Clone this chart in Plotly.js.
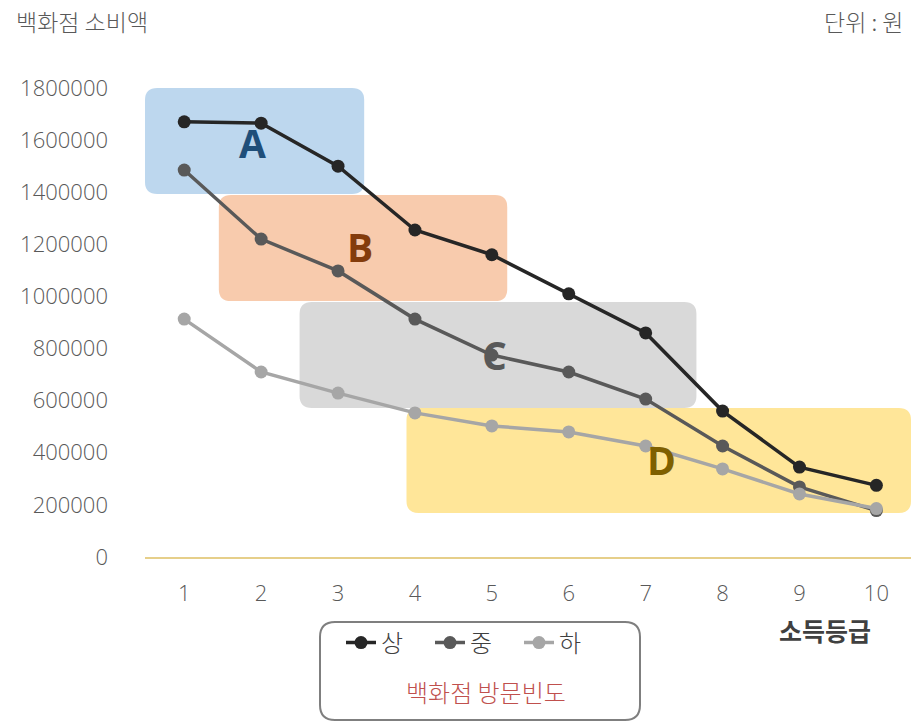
<!DOCTYPE html>
<html>
<head>
<meta charset="utf-8">
<script src="https://cdn.plot.ly/plotly-3.0.1.min.js"></script>
<style>
  html, body { margin: 0; padding: 0; background: #ffffff; }
  #chart { width: 911px; height: 721px; }
</style>
</head>
<body>
<div id="chart"></div>
<script>
// Income grade (x) and department-store spending (won) by visit frequency
const grades = [1, 2, 3, 4, 5, 6, 7, 8, 9, 10];
const tickLabels = ['1', '2', '3', '4', '5', '6', '7', '8', '9', '10'];
const high = [1670000, 1665000, 1500000, 1255000, 1160000, 1010000, 860000, 560000, 345000, 275000];
const mid  = [1485000, 1220000, 1098000, 913000, 775000, 710000, 606000, 426000, 269000, 178000];
const low  = [913000, 710000, 629000, 553000, 503000, 480000, 426000, 338000, 242000, 186000];
const seriesNames = ['상', '중', '하'];
const yTicks = [0, 200000, 400000, 600000, 800000, 1000000, 1200000, 1400000, 1600000, 1800000];

// Highlighted groups: label, x span, y span
const groupLabels = ['A', 'B', 'C', 'D'];
const groupX = [[0.49, 3.34], [1.45, 5.2], [2.5, 7.66], [3.89, 10.45]];
const groupY = [[1393000, 1800000], [982000, 1389000], [572000, 979000], [169000, 572000]];
const groupFill = ['#bdd7ee', '#f8cbad', '#d9d9d9', '#ffe699'];
const groupInk = ['#1f4e79', '#843c0c', '#595959', '#7f6000'];
const groupLabelPos = [[1.89, 1590000], [3.28, 1192000], [5.03, 778000], [7.2, 376000]];

const FONT = "'Open Sans', 'Noto Sans CJK KR', sans-serif";
const KFONT = "'Noto Sans CJK KR', 'Open Sans', sans-serif";

// rounded rectangle as an SVG path; rx/ry are corner radii in the shape's own units
function roundRect(x0, x1, y0, y1, rx, ry) {
  return 'M ' + (x0 + rx) + ',' + y0 +
    ' L ' + (x1 - rx) + ',' + y0 +
    ' Q ' + x1 + ',' + y0 + ' ' + x1 + ',' + (y0 + ry) +
    ' L ' + x1 + ',' + (y1 - ry) +
    ' Q ' + x1 + ',' + y1 + ' ' + (x1 - rx) + ',' + y1 +
    ' L ' + (x0 + rx) + ',' + y1 +
    ' Q ' + x0 + ',' + y1 + ' ' + x0 + ',' + (y1 - ry) +
    ' L ' + x0 + ',' + (y0 + ry) +
    ' Q ' + x0 + ',' + y0 + ' ' + (x0 + rx) + ',' + y0 + ' Z';
}

const lineColors = ['#262626', '#595959', '#a6a6a6'];
const values = [high, mid, low];
const traces = values.map((v, i) => ({
  x: grades,
  y: v,
  name: seriesNames[i],
  type: 'scatter',
  mode: 'lines+markers',
  line: { color: lineColors[i], width: 3.5 },
  marker: { color: lineColors[i], size: 13 },
  cliponaxis: false
}));

const shapes = groupLabels.map((g, i) => ({
  type: 'path',
  xref: 'x', yref: 'y',
  layer: 'below',
  path: roundRect(groupX[i][0], groupX[i][1], groupY[i][0], groupY[i][1], 0.16, 46000),
  fillcolor: groupFill[i],
  line: { width: 0 }
}));

// legend frame (paper units: plot spans 766 x 487 px)
const PW = 766, PH = 487;
const lx0 = (320 - 145) / PW, lx1 = (640 - 145) / PW;
const ly0 = (557 - 720) / PH, ly1 = (557 - 622) / PH;
shapes.push({
  type: 'path', xref: 'paper', yref: 'paper',
  path: roundRect(lx0, lx1, ly0, ly1, 15 / PW, 15 / PH),
  line: { color: '#7f7f7f', width: 2 },
  fillcolor: 'rgba(0,0,0,0)'
});

const annotations = groupLabels.map((g, i) => ({
  x: groupLabelPos[i][0], y: groupLabelPos[i][1],
  xref: 'x', yref: 'y',
  text: '<b>' + g + '</b>',
  showarrow: false,
  font: { family: FONT, size: 39, color: groupInk[i] }
}));

annotations.push(
  { xref: 'paper', yref: 'paper', x: (14 - 145) / PW, y: (557 - 21) / PH,
    xanchor: 'left', yanchor: 'middle', showarrow: false,
    text: '백화점 소비액', font: { family: KFONT, size: 23, weight: 300, color: '#595959' } },
  { xref: 'paper', yref: 'paper', x: (905 - 145) / PW, y: (557 - 21) / PH,
    xanchor: 'right', yanchor: 'middle', showarrow: false,
    text: '단위 : 원', font: { family: KFONT, size: 23, weight: 300, color: '#595959' } },
  { xref: 'paper', yref: 'paper', x: (825 - 145) / PW, y: (557 - 630) / PH,
    xanchor: 'center', yanchor: 'middle', showarrow: false,
    text: '소득등급', font: { family: KFONT, size: 25, weight: 700, color: '#404040' } },
  { xref: 'paper', yref: 'paper', x: (486 - 145) / PW, y: (557 - 691) / PH,
    xanchor: 'center', yanchor: 'middle', showarrow: false,
    text: '백화점 방문빈도', font: { family: KFONT, size: 24, weight: 300, color: '#c0504d' } }
);

const layout = {
  width: 911, height: 721,
  margin: { l: 145, r: 0, t: 70, b: 164 },
  paper_bgcolor: '#ffffff',
  plot_bgcolor: '#ffffff',
  font: { family: FONT, color: '#595959' },
  showlegend: true,
  legend: {
    orientation: 'h',
    x: (341 - 145) / PW, xanchor: 'left',
    y: (557 - 643) / PH, yanchor: 'middle',
    font: { family: KFONT, size: 24, weight: 300, color: '#404040' },
    bgcolor: 'rgba(0,0,0,0)',
    itemwidth: 30,
    entrywidth: 44,
    tracegroupgap: 0
  },
  xaxis: {
    type: 'linear',
    range: [0.49, 10.45],
    tickvals: grades,
    ticktext: tickLabels,
    showgrid: false,
    zeroline: false,
    showline: true,
    linecolor: '#e6cf8a',
    linewidth: 1.5,
    ticks: '',
    ticklabelstandoff: 16,
    tickfont: { family: FONT, size: 22, weight: 300, color: '#595959' }
  },
  yaxis: {
    range: [0, 1869000],
    tickvals: yTicks,
    ticktext: yTicks.map(String),
    showgrid: false,
    zeroline: false,
    showline: false,
    ticks: '',
    ticklabelstandoff: 36,
    tickfont: { family: FONT, size: 22, weight: 300, color: '#595959' }
  },
  shapes: shapes,
  annotations: annotations
};

Plotly.newPlot('chart', traces, layout, { displayModeBar: false, staticPlot: true });
</script>
</body>
</html>
